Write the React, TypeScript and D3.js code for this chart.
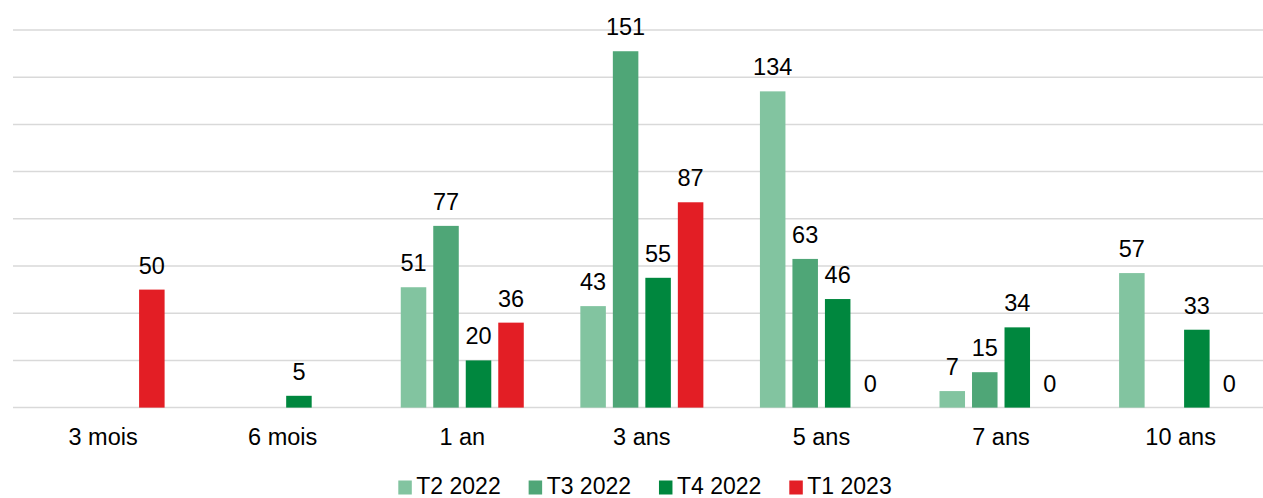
import React from "react";
import * as d3 from "d3";

const categories = ["3 mois", "6 mois", "1 an", "3 ans", "5 ans", "7 ans", "10 ans"];
const seriesNames = ["T2 2022", "T3 2022", "T4 2022", "T1 2023"];
const t2_2022: (number | null)[] = [null, null, 51, 43, 134, 7, 57];
const t3_2022: (number | null)[] = [null, null, 77, 151, 63, 15, null];
const t4_2022: (number | null)[] = [null, 5, 20, 55, 46, 34, 33];
const t1_2023: (number | null)[] = [50, null, 36, 87, 0, 0, 0];
const seriesColors = ["#82c4a0", "#4fa677", "#00873e", "#e31e25"];
const yTicks = [0, 20, 40, 60, 80, 100, 120, 140, 160];

const W = 1263;
const H = 498;
const FONT = "'Liberation Sans', Arial, sans-serif";

export default function App() {
  const seriesValues = [t2_2022, t3_2022, t4_2022, t1_2023];
  const x0 = d3
    .scaleBand<string>()
    .domain(categories)
    .range([13.3, 1270.4])
    .paddingInner(0.315)
    .paddingOuter(0.1575);
  const x1 = d3
    .scaleBand<string>()
    .domain(seriesNames)
    .range([0, x0.bandwidth()])
    .paddingInner(0.215)
    .paddingOuter(0);
  const y = d3.scaleLinear().domain([0, 160]).range([407.6, 30]);

  const legendX = d3.scalePoint<string>().domain(seriesNames).range([398.3, 789.3]);

  return (
    <svg
      width={W}
      height={H}
      style={{ position: "absolute", left: 0, top: 0, background: "#fff" }}
      fontFamily={FONT}
    >
      <rect x={0} y={0} width={W} height={H} fill="#fff" />
      {yTicks.map((t) => (
        <line
          key={t}
          x1={13}
          x2={W}
          y1={y(t)}
          y2={y(t)}
          stroke="#d9d9d9"
          strokeWidth={1.5}
        />
      ))}
      {categories.map((c, ci) => (
        <g key={c} transform={`translate(${x0(c)},0)`}>
          {seriesNames.map((s, si) => {
            const v = seriesValues[si][ci];
            if (v === null) return null;
            const bx = x1(s)!;
            return (
              <g key={s}>
                {v > 0 && (
                  <rect
                    x={bx}
                    y={y(v)}
                    width={x1.bandwidth()}
                    height={y(0) - y(v)}
                    fill={seriesColors[si]}
                  />
                )}
                <text
                  x={bx + x1.bandwidth() / 2}
                  y={y(v) - 16}
                  textAnchor="middle"
                  fontSize={23.5}
                  fill="#000"
                >
                  {v}
                </text>
              </g>
            );
          })}
          <text
            x={x0.bandwidth() / 2}
            y={445}
            textAnchor="middle"
            fontSize={23.5}
            fill="#000"
          >
            {c}
          </text>
        </g>
      ))}
      {seriesNames.map((s, si) => (
        <g key={s} transform={`translate(${legendX(s)},0)`}>
          <rect x={0} y={480.5} width={13.5} height={14} fill={seriesColors[si]} />
          <text x={18} y={493.5} fontSize={23} fill="#000">
            {s}
          </text>
        </g>
      ))}
    </svg>
  );
}
